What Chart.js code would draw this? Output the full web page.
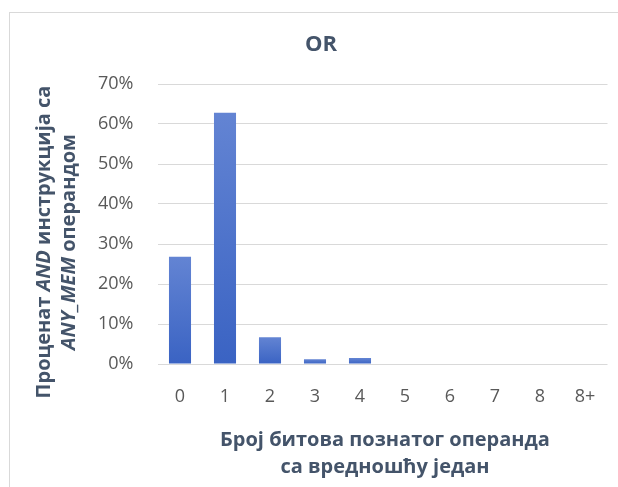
<!DOCTYPE html>
<html>
<head>
<meta charset="utf-8">
<script src="https://cdn.jsdelivr.net/npm/chart.js@4/dist/chart.umd.min.js"></script>
<style>
  html, body { margin: 0; padding: 0; background: #fff; }
  #wrap { position: relative; width: 618px; height: 487px; overflow: hidden; }
  #frame { position: absolute; left: 9px; top: 12px; width: 700px; height: 600px; border: 1px solid #d9d9d9; box-sizing: border-box; }
  canvas { position: absolute; left: 0; top: 0; }
</style>
</head>
<body>
<div id="wrap">
  <div id="frame"></div>
  <canvas id="chart" width="618" height="487"></canvas>
</div>
<script>
const categories = ['0', '1', '2', '3', '4', '5', '6', '7', '8', '8+'];
const shares = [0.268, 0.628, 0.067, 0.012, 0.015, 0, 0, 0, 0, 0];
const yTicks = [0, 0.1, 0.2, 0.3, 0.4, 0.5, 0.6, 0.7];

const chartTitle = 'OR';
// [text, italic] pieces for each line of the axis titles
const yTitleLines = [
  [['Проценат ', false], ['AND', true], [' инструкција са', false]],
  [['ANY_MEM', true], [' операндом', false]]
];
const xTitleLines = [
  [['Број битова познатог операнда', false]],
  [['са вредношћу један', false]]
];

const FONT = '"Open Sans", "Noto Sans", sans-serif';
const TITLE_COLOR = '#44546a';
const TICK_COLOR = '#595959';

function barGradient(context) {
  const chart = context.chart;
  if (!chart.chartArea || context.type !== 'data') return '#4472c4';
  const y = chart.scales.y;
  const top = y.getPixelForValue(context.parsed.y);
  const bottom = y.getPixelForValue(0);
  if (bottom - top < 1) return '#4472c4';
  const g = chart.ctx.createLinearGradient(0, top, 0, bottom);
  g.addColorStop(0, '#6384d3');
  g.addColorStop(1, '#3a63c3');
  return g;
}

function drawRichLine(ctx, pieces, size) {
  let total = 0;
  pieces.forEach(p => {
    ctx.font = (p[1] ? 'italic ' : '') + 'bold ' + size + 'px ' + FONT;
    total += ctx.measureText(p[0]).width;
  });
  let x = -total / 2;
  pieces.forEach(p => {
    ctx.font = (p[1] ? 'italic ' : '') + 'bold ' + size + 'px ' + FONT;
    ctx.fillText(p[0], x, 0);
    x += ctx.measureText(p[0]).width;
  });
}

const titlesPlugin = {
  id: 'titles',
  afterDraw(chart) {
    const ctx = chart.ctx;
    ctx.save();
    ctx.fillStyle = TITLE_COLOR;
    ctx.textBaseline = 'middle';
    ctx.textAlign = 'left';

    // chart title
    ctx.save();
    ctx.translate(321, 45);
    drawRichLine(ctx, [[chartTitle, false]], 22);
    ctx.restore();

    // y axis title (rotated)
    yTitleLines.forEach((line, i) => {
      ctx.save();
      ctx.translate(44 + i * 25, 242);
      ctx.rotate(-Math.PI / 2);
      drawRichLine(ctx, line, 20);
      ctx.restore();
    });

    // x axis title
    xTitleLines.forEach((line, i) => {
      ctx.save();
      ctx.translate(385, 440 + i * 27);
      drawRichLine(ctx, line, 20);
      ctx.restore();
    });
    ctx.restore();
  }
};

new Chart(document.getElementById('chart'), {
  type: 'bar',
  data: {
    labels: categories,
    datasets: [{
      data: shares,
      backgroundColor: barGradient,
      borderWidth: 0,
      categoryPercentage: 1,
      barPercentage: 0.49
    }]
  },
  options: {
    responsive: false,
    animation: false,
    layout: { padding: { top: 84, right: 10.5, left: 0, bottom: 0 } },
    plugins: {
      legend: { display: false },
      tooltip: { enabled: false }
    },
    scales: {
      x: {
        afterFit(scale) { scale.height = 123; },
        grid: { display: false, drawTicks: false },
        border: { display: false },
        ticks: {
          color: TICK_COLOR,
          padding: 22,
          font: { family: FONT, size: 18 }
        }
      },
      y: {
        min: 0,
        max: 0.7,
        afterFit(scale) { scale.width = 157.5; },
        afterBuildTicks(scale) { scale.ticks = yTicks.map(v => ({ value: v })); },
        grid: { color: '#d9d9d9', lineWidth: 1, drawTicks: false },
        border: { display: false },
        ticks: {
          color: TICK_COLOR,
          padding: 24,
          font: { family: FONT, size: 18 },
          callback: v => Math.round(v * 100) + '%'
        }
      }
    }
  },
  plugins: [titlesPlugin]
});
</script>
</body>
</html>
